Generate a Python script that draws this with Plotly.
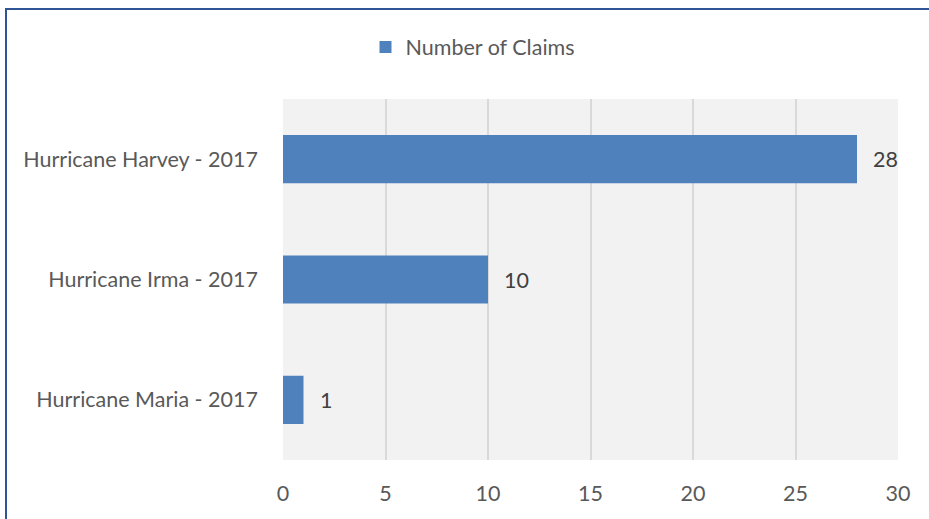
import plotly.graph_objects as go

categories = ["Hurricane Harvey - 2017", "Hurricane Irma - 2017", "Hurricane Maria - 2017"]
claims = [28, 10, 1]
series_name = "Number of Claims"
x_ticks = [0, 5, 10, 15, 20, 25, 30]

W, H = 929, 519
L, R, T, B = 283, 31, 99, 59
pw, ph = W - L - R, H - T - B

FONT = "Lato, 'Open Sans', sans-serif"
FS = 21.5

fig = go.Figure()
fig.add_trace(go.Bar(
    y=categories, x=claims, orientation="h", name=series_name,
    marker=dict(color="#4f81bd", line=dict(width=0)),
    showlegend=True,
))

for cat, val in zip(categories, claims):
    fig.add_annotation(x=val, y=cat, xref="x", yref="y", text=str(val),
                       showarrow=False, xanchor="left", yanchor="middle",
                       xshift=14, font=dict(family=FONT, size=FS, color="#404040"))

def px_x(p):
    return (p - L) / pw

def px_y(p):
    return (H - B - p) / ph

fig.add_shape(type="rect", xref="paper", yref="paper",
              x0=px_x(6), x1=px_x(940), y0=px_y(530), y1=px_y(9),
              line=dict(color="#2f5597", width=2), fillcolor="rgba(0,0,0,0)",
              layer="above")

fig.update_layout(
    width=W, height=H,
    margin=dict(l=L, r=R, t=T, b=B, autoexpand=False),
    paper_bgcolor="white", plot_bgcolor="#f2f2f2",
    bargap=0.6,
    font=dict(family=FONT, size=FS, color="#595959"),
    legend=dict(orientation="h", xref="container", yref="container",
                x=473 / W, xanchor="center", y=1 - 47 / H, yanchor="middle",
                font=dict(family=FONT, size=FS, color="#595959"),
                bgcolor="rgba(0,0,0,0)", itemwidth=30),
    xaxis=dict(range=[0, 30], tickvals=x_ticks, showgrid=True,
               gridcolor="#d9d9d9", gridwidth=1.5, zeroline=False,
               showline=False, ticks="", ticklabelstandoff=18,
               tickfont=dict(family=FONT, size=FS, color="#595959")),
    yaxis=dict(autorange="reversed", showgrid=False, zeroline=False,
               showline=False, ticks="", ticklabelstandoff=24,
               tickfont=dict(family=FONT, size=FS, color="#595959")),
)

fig.write_html("out.html", config={"displayModeBar": False},
               post_script="document.body.style.margin='0';document.body.style.overflow='hidden';")
